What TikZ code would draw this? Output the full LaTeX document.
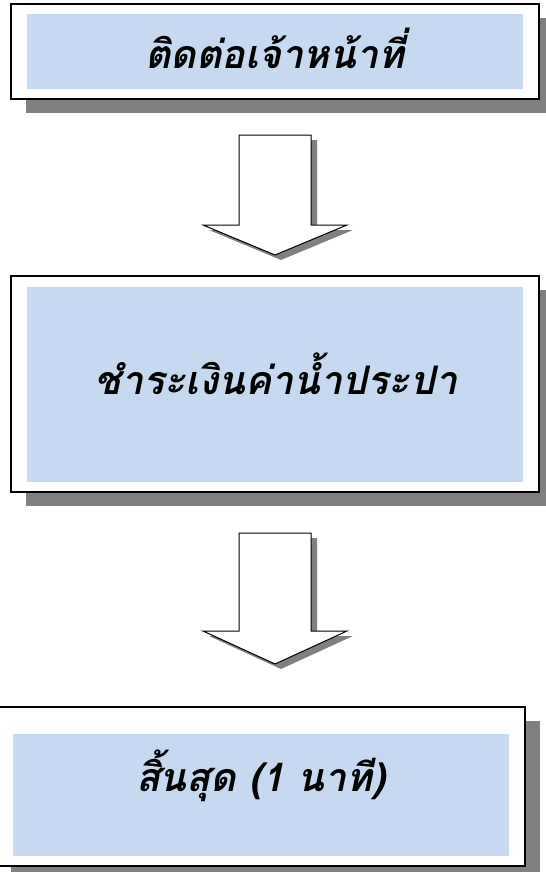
\documentclass[tikz,border=0pt]{standalone}
\usepackage{fontspec}
\newfontfamily\thaifont[Script=Thai]{Loma}
\usetikzlibrary{shadows}
\definecolor{boxblue}{RGB}{198,217,241}
\definecolor{shadowgray}{RGB}{128,128,128}
\tikzset{
  outerbox/.style={draw=black, line width=1.5pt, fill=white, inner sep=0pt,
    minimum width=396pt,
    drop shadow={shadow xshift=11.25pt, shadow yshift=-10.5pt, fill=shadowgray, opacity=1}},
  innerbox/.style={fill=boxblue, inner sep=0pt, minimum width=372pt},
  steplabel/.style={font=\thaifont\bfseries\itshape\fontsize{29.5}{33}\selectfont, inner sep=0pt},
  blockarrow/.style={draw=black, line width=0.75pt, fill=white, line join=miter},
  arrowshadow/.style={fill=shadowgray}
}
\begin{document}
\begin{tikzpicture}[x=0.75pt,y=0.75pt,yscale=-1,xscale=1]
\useasboundingbox (0,0) rectangle (546,872);

%Box: contact
\node[outerbox, minimum height=71.25pt] (contact) at (275,51.5) {};
\node[innerbox, minimum height=56.25pt] (contactin) at (275,51.5) {};
\node[steplabel] (contacttxt) at (275,48) {ติดต่อเจ้าหน้าที่};

%Arrow 1
\fill[arrowshadow] (245,140) -- (317,140) -- (317,230) -- (353,230) -- (281,260) -- (209,230) -- (245,230) -- cycle ;
\draw[blockarrow] (239,135) -- (311,135) -- (311,225) -- (347,225) -- (275,255) -- (203,225) -- (239,225) -- cycle ;

%Box: payment
\node[outerbox, minimum height=162pt] (pay) at (275,384) {};
\node[innerbox, minimum height=146.25pt] (payin) at (275,384.5) {};
\node[steplabel] (paytxt) at (276,374) {ชำระเงินค่าน้ำประปา};

%Arrow 2
\fill[arrowshadow] (245,538) -- (317,538) -- (317,636) -- (353,636) -- (281,669) -- (209,636) -- (245,636) -- cycle ;
\draw[blockarrow] (239,533) -- (311,533) -- (311,631) -- (347,631) -- (275,664) -- (203,631) -- (239,631) -- cycle ;

%Box: end
\node[outerbox, minimum height=119.25pt, minimum width=397pt] (finish) at (260.5,786.5) {};
\node[innerbox, minimum height=91.5pt] (finishin) at (261,795) {};
\node[steplabel] (finishtxt) at (261,776) {สิ้นสุด (1 นาที)};

\end{tikzpicture}
\end{document}
